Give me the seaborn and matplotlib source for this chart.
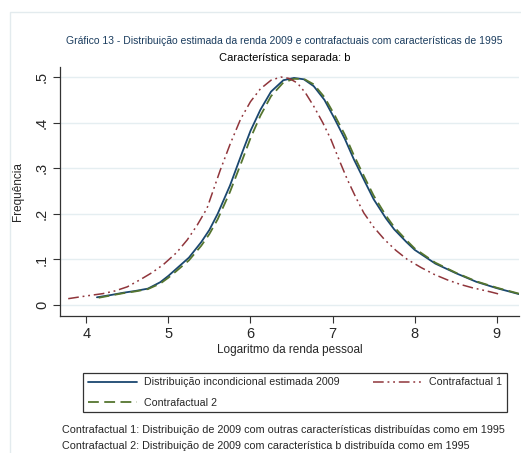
import numpy as np
import pandas as pd
import matplotlib
matplotlib.use("Agg")
import matplotlib.pyplot as plt
import seaborn as sns
from matplotlib.patches import Rectangle

# Estimated densities of log personal income
blue_x = [4.13, 4.3, 4.45, 4.6, 4.75, 4.9, 5.0, 5.1, 5.25, 5.4, 5.5, 5.6, 5.75, 5.9, 6.0, 6.12,
          6.25, 6.4, 6.53, 6.65, 6.77, 6.9, 7.02, 7.15, 7.26, 7.4, 7.5, 7.65, 7.75, 7.9, 8.0,
          8.25, 8.5, 8.75, 9.0, 9.27]
blue_y = [0.017, 0.022, 0.027, 0.031, 0.036, 0.050, 0.064, 0.080, 0.104, 0.138, 0.165, 0.200,
          0.262, 0.335, 0.382, 0.428, 0.468, 0.493, 0.498, 0.495, 0.480, 0.450, 0.410, 0.364,
          0.319, 0.268, 0.232, 0.190, 0.166, 0.138, 0.121, 0.091, 0.070, 0.051, 0.037, 0.024]

green_x = [4.15, 4.3, 4.45, 4.6, 4.75, 4.9, 5.0, 5.1, 5.25, 5.4, 5.5, 5.6, 5.75, 5.9, 6.0, 6.12,
           6.25, 6.4, 6.53, 6.65, 6.77, 6.9, 7.02, 7.15, 7.26, 7.4, 7.5, 7.65, 7.75, 7.9, 8.0,
           8.25, 8.5, 8.75, 9.0, 9.27]
green_y = [0.016, 0.021, 0.026, 0.030, 0.035, 0.047, 0.060, 0.075, 0.098, 0.130, 0.156, 0.188,
           0.248, 0.318, 0.366, 0.415, 0.458, 0.488, 0.496, 0.496, 0.484, 0.456, 0.418, 0.373,
           0.328, 0.276, 0.240, 0.196, 0.171, 0.142, 0.124, 0.093, 0.071, 0.052, 0.038, 0.025]

red_x = [3.78, 4.0, 4.2, 4.35, 4.5, 4.66, 4.8, 4.94, 5.1, 5.23, 5.35, 5.47, 5.63, 5.75, 5.88,
         6.0, 6.12, 6.25, 6.37, 6.47, 6.57, 6.67, 6.77, 6.88, 6.98, 7.08, 7.18, 7.28, 7.38,
         7.5, 7.63, 7.77, 7.91, 8.08, 8.24, 8.4, 8.56, 8.7, 8.8, 8.92, 9.05]
red_y = [0.014, 0.020, 0.025, 0.031, 0.040, 0.056, 0.071, 0.089, 0.115, 0.143, 0.175, 0.212,
         0.295, 0.352, 0.408, 0.446, 0.474, 0.493, 0.500, 0.497, 0.487, 0.465, 0.436, 0.400,
         0.363, 0.318, 0.275, 0.237, 0.202, 0.171, 0.144, 0.120, 0.100, 0.082, 0.067, 0.055,
         0.045, 0.038, 0.034, 0.029, 0.023]

x_ticks = [4, 5, 6, 7, 8, 9]
y_ticks = [0, 0.1, 0.2, 0.3, 0.4, 0.5]
y_tick_labels = ["0", ".1", ".2", ".3", ".4", ".5"]

label_blue = "Distribuição incondicional estimada 2009"
label_red = "Contrafactual 1"
label_green = "Contrafactual 2"

sns.set_style("white")
plt.rcParams["font.family"] = ["Liberation Sans", "DejaVu Sans"]

NAVY = "#1a476f"
MAROON = "#90353b"
GREEN = "#55752f"

W, H = 521, 453
fig = plt.figure(figsize=(W / 100, H / 100), dpi=100)
fig.patch.set_facecolor("white")
fig.add_artist(Rectangle((10 / W, -0.01), 1.0, 1 - 12 / H + 0.01, transform=fig.transFigure,
                         fill=False, edgecolor="#e3ebee", linewidth=1.0))

ax = fig.add_axes([60 / W, 1 - 316 / H, (519 - 60) / W, (316 - 67) / H])

sns.lineplot(x=blue_x, y=blue_y, ax=ax, color=NAVY, lw=1.3, sort=False, label=label_blue)
sns.lineplot(x=green_x, y=green_y, ax=ax, color=GREEN, lw=1.3, sort=False, label=label_green,
             linestyle=(0, (6, 3)))
sns.lineplot(x=red_x, y=red_y, ax=ax, color=MAROON, lw=1.1, sort=False, label=label_red,
             linestyle=(0, (7, 2.5, 1.2, 2.5, 1.2, 2.5)))

ax.set_xlim(3.68, 9.27)
ax.set_ylim(-0.024, 0.522)
ax.set_xticks(x_ticks)
ax.set_xticklabels([str(t) for t in x_ticks], fontsize=10.5)
ax.set_yticks(y_ticks)
ax.set_yticklabels(y_tick_labels, fontsize=10.5, rotation=90, va="center")
ax.grid(axis="y", color="#e5eef1", lw=1.0)
ax.set_axisbelow(True)
for s in ["top", "right"]:
    ax.spines[s].set_visible(False)
for s in ["left", "bottom"]:
    ax.spines[s].set_color("#333333")
    ax.spines[s].set_linewidth(0.9)
ax.tick_params(axis="both", which="major", direction="out", length=5, width=0.8,
               color="#333333", left=True, bottom=True, pad=3)
ax.set_xlabel("Logaritmo da renda pessoal", fontsize=8.5, labelpad=2)
ax.set_ylabel("Frequência", fontsize=8.5, labelpad=8)

fig.text(284.5 / W, 1 - 41 / H, "Gráfico 13 - Distribuição estimada da renda 2009 e contrafactuais com características de 1995",
         ha="center", va="center", fontsize=7.5, color="#1a3c5e")
fig.text(284.5 / W, 1 - 58 / H, "Característica separada: b", ha="center", va="center",
         fontsize=8.0, color="black")

handles, labels = ax.get_legend_handles_labels()
ax.get_legend().remove()
order = [labels.index(label_blue), labels.index(label_green), labels.index(label_red)]
leg = fig.legend([handles[i] for i in order], [labels[i] for i in order],
                 loc="upper left", bbox_to_anchor=(83 / W, 1 - 373 / H, (507 - 83) / W, 0.001),
                 mode="expand", ncol=2,
                 fontsize=7.7, frameon=True, fancybox=False, edgecolor="black",
                 handlelength=4.6, handletextpad=0.7, borderaxespad=0,
                 borderpad=0.45, labelspacing=0.95)
leg.get_frame().set_linewidth(0.9)

fig.text(62 / W, 1 - 430 / H,
         "Contrafactual 1: Distribuição de 2009 com outras características distribuídas como em 1995",
         ha="left", va="center", fontsize=7.75)
fig.text(62 / W, 1 - 446 / H,
         "Contrafactual 2: Distribuição de 2009 com característica b distribuída como em 1995",
         ha="left", va="center", fontsize=7.75)

fig.savefig("out.png", dpi=100, facecolor="white")
